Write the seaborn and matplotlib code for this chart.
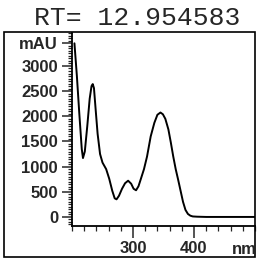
import pandas as pd
import seaborn as sns
import matplotlib.pyplot as plt
from matplotlib.patches import Rectangle
from matplotlib.ticker import MultipleLocator

# spectrum
wavelength = [204, 208, 212, 216, 218, 221, 225, 229, 232, 234, 236, 239, 242, 246,
              250, 256, 261, 266, 270, 273, 277, 282, 287, 292, 297, 301, 305, 309,
              313, 318, 323, 329, 335, 340, 345, 349, 353, 358, 362, 366, 370, 374,
              378, 382, 386, 390, 394, 398, 405, 420, 440, 460, 480, 500]
absorbance = [3450, 2800, 2050, 1350, 1170, 1300, 1800, 2350, 2600, 2640, 2560, 2100, 1650, 1250,
              1080, 950, 760, 520, 370, 350, 420, 560, 670, 720, 660, 560, 530, 610,
              760, 950, 1200, 1600, 1870, 2030, 2075, 2040, 1950, 1740, 1480, 1200, 950, 740,
              520, 300, 140, 60, 25, 10, 5, 0, 0, 0, 0, 0]

ytick_vals = [0, 500, 1000, 1500, 2000, 2500, 3000, 3450]
ytick_labels = ['0', '500', '1000', '1500', '2000', '2500', '3000', 'mAU']
xtick_vals = [300, 400]

df = pd.DataFrame({'wavelength': wavelength, 'mAU': absorbance})

sns.set_style('ticks')
plt.rcParams['font.family'] = ['Liberation Sans', 'DejaVu Sans']

fig = plt.figure(figsize=(2.57, 2.60), dpi=100)
ax = fig.add_axes([72 / 257, 1 - 226 / 260, 183 / 257, 193 / 260])

sns.lineplot(data=df, x='wavelength', y='mAU', color='black', linewidth=1.4,
             estimator=None, ax=ax)

ax.set_xlim(200, 500)
ax.set_ylim(-180, 3655)
ax.set_xlabel('')
ax.set_ylabel('')
ax.set_xticks(xtick_vals)
ax.set_yticks(ytick_vals)
ax.set_yticklabels(ytick_labels)
ax.xaxis.set_minor_locator(MultipleLocator(20))
ax.yaxis.set_minor_locator(MultipleLocator(50))
for lab in ax.get_xticklabels() + ax.get_yticklabels():
    lab.set_fontweight('bold')
    lab.set_fontsize(12)
ax.tick_params(axis='y', which='major', length=7, width=1.1, pad=3, direction='out')
ax.tick_params(axis='y', which='minor', length=3, width=0.9, direction='out')
ax.tick_params(axis='x', which='major', length=8.5, width=1.1, pad=2, direction='out')
ax.tick_params(axis='x', which='minor', length=3.5, width=0.9, direction='out')
for side in ['top', 'right']:
    ax.spines[side].set_visible(False)
for side in ['left', 'bottom']:
    ax.spines[side].set_linewidth(1.3)
    ax.spines[side].set_color('black')

# outer frame around the panel
fig.patches.append(Rectangle((4 / 257, 1 - 257 / 260), 251 / 257, 225 / 260,
                             transform=fig.transFigure, fill=False,
                             edgecolor='black', linewidth=1.2))

fig.text(232 / 257, 1 - 249 / 260, 'nm', ha='left', va='center',
         fontsize=12, fontweight='bold')
fig.text(137 / 257, 1 - 18 / 260, 'RT= 12.954583', ha='center', va='center',
         fontsize=19, family=['Liberation Mono', 'DejaVu Sans Mono'])

fig.savefig('out.png', dpi=100)
